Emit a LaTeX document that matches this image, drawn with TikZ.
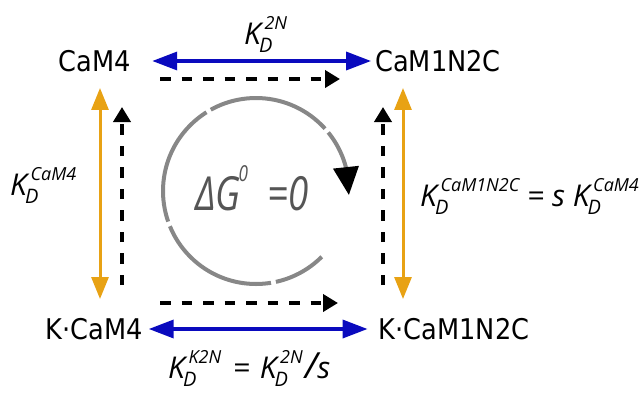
\documentclass[tikz,border=0pt]{standalone}
\usepackage{fontspec}
\setmainfont{DejaVu Sans}[FakeStretch=0.9]
\newfontfamily\labfont{Open Sans}
\newfontfamily\dgfont{Open Sans}[FakeStretch=0.78]
\usetikzlibrary{arrows.meta,bending}
\definecolor{myblue}{RGB}{10,10,190}
\definecolor{myorange}{RGB}{232,162,20}
\definecolor{cyclegray}{RGB}{135,135,135}
\definecolor{textgray}{RGB}{85,85,85}
\newcommand\Dsz{\fontsize{20}{20}\selectfont}
\newcommand\supsz{\fontsize{18}{18}\selectfont}
\newcommand\KD[1]{K\kern-2pt\rlap{\raisebox{-0.27em}{\Dsz D}}\kern5.5pt\raisebox{0.5em}{\supsz #1}}
\begin{document}
\begin{tikzpicture}[x=1pt,y=-1pt,
  species/.style={font=\fontsize{28.5}{32}\selectfont, inner sep=2pt},
  lab/.style={font=\labfont\itshape\fontsize{30}{34}\selectfont, inner sep=0pt, anchor=base west},
  bluearr/.style={draw=myblue, line width=3.5pt, {Triangle[length=25pt,width=18pt]}-{Triangle[length=25pt,width=18pt]}},
  orarr/.style={draw=myorange, line width=3pt, {Triangle[length=22pt,width=17pt]}-{Triangle[length=22pt,width=17pt]}},
  dasharr/.style={draw=black, line width=4pt, dash pattern=on 10.5pt off 11pt, -{Triangle[length=15pt,width=17pt]}},
  cycle/.style={draw=cyclegray, line width=4pt, dash pattern=on 125pt off 5pt, dash phase=72pt, -{Triangle[length=28pt,width=25pt,color=black]}},
]
\useasboundingbox (0,0) rectangle (642,394);

% species
\node[species] (CaM4) at (95,61) {CaM4};
\node[species] (CaM1) at (438,61) {CaM1N2C};
\node[species] (KCaM4) at (94,329) {K·CaM4};
\node[species] (KCaM1) at (454,329) {K·CaM1N2C};

% blue equilibria
\draw[bluearr, shorten <=19pt, shorten >=2pt] (CaM4.east) -- (CaM1.west);
\draw[bluearr, shorten <=4pt, shorten >=9pt] (KCaM4.east) -- (KCaM1.west);

% orange equilibria
\draw[orarr, shorten <=14pt, shorten >=17pt] ([xshift=5pt]CaM4.south) -- ([xshift=6pt]KCaM4.north);
\draw[orarr, shorten <=14pt, shorten >=17pt] ([xshift=-35pt]CaM1.south) -- ([xshift=-51pt]KCaM1.north);

% dashed arrows
\coordinate (t1) at (160,79);  \coordinate (t2) at (340,79);
\coordinate (b1) at (160,303); \coordinate (b2) at (338,303);
\coordinate (l1) at (122,285); \coordinate (l2) at (122,107);
\coordinate (r1) at (383,285); \coordinate (r2) at (383,107);
\draw[dasharr] (t1) -- (t2);
\draw[dasharr] (b1) -- (b2);
\draw[dasharr] (l1) -- (l2);
\draw[dasharr] (r1) -- (r2);

% cycle
\coordinate (cc) at (256,191);
\draw[cycle] ([shift={(45:93)}]cc) arc[start angle=45, end angle=362.5, radius=93];
\node[font=\dgfont\itshape\fontsize{47}{52}\selectfont, text=textgray, inner sep=0pt, anchor=base west] (dg) at (195,210)
  {\char"0394G\kern-2pt\raisebox{0.6em}{\fontsize{22}{22}\selectfont 0}\hspace{19pt}=0};

% labels
\node[lab] (l2n) at (244,44) {\KD{2N}};
\node[lab] (lcam4) at (10,195) {\KD{CaM4}};
\node[lab] (lcam1) at (420,206) {\KD{CaM1N2C} = s \KD{CaM4}};
\node[lab] (lk2n) at (168,378) {\KD{K2N}\hspace{4pt} = \hspace{2pt}\KD{2N}\kern2pt{\fontsize{36}{36}\selectfont/}\kern0pt s};
\end{tikzpicture}
\end{document}
